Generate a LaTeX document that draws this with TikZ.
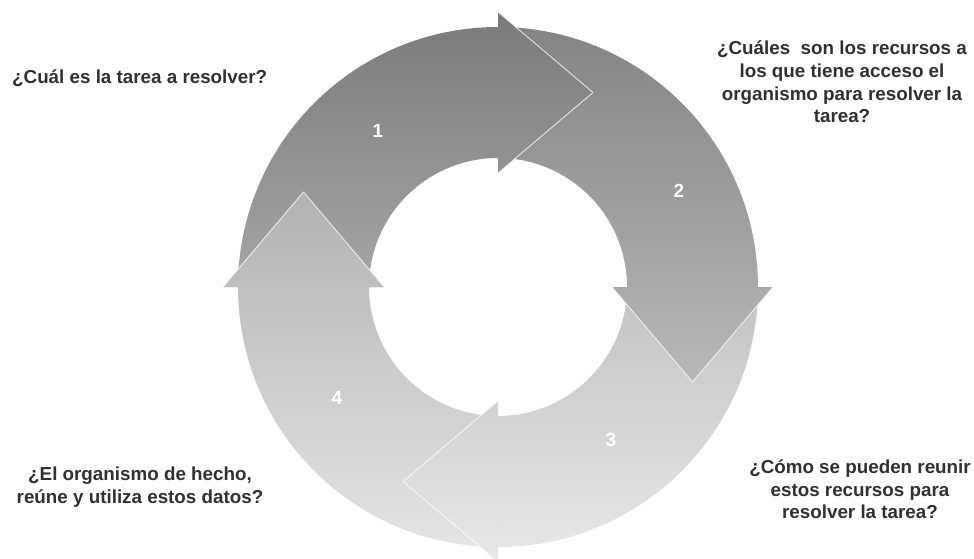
\documentclass[tikz,border=0pt]{standalone}
\usepackage{fontspec}
\setmainfont{Liberation Sans}
\definecolor{textgray}{HTML}{303030}
\definecolor{aOt}{HTML}{7A7A7A}\definecolor{aOb}{HTML}{A6A6A6}
\definecolor{aTt}{HTML}{848484}\definecolor{aTb}{HTML}{B8B8B8}
\definecolor{aHt}{HTML}{C2C2C2}\definecolor{aHb}{HTML}{E8E8E8}
\definecolor{aFt}{HTML}{B2B2B2}\definecolor{aFb}{HTML}{E4E4E4}
\newcommand\ringarrow[1]{({#1+90}:260) arc[start angle={#1+90}, end angle={#1}, radius=260] -- ({#1}:275) -- ({#1-26.03}:216.46) -- ({#1}:114) -- ({#1}:129) arc[start angle={#1}, end angle={#1+90}, radius=129] -- cycle}
\newcommand\ringhead[1]{({#1}:275) -- ({#1-26.03}:216.46) -- ({#1}:114) -- cycle}
\newcommand\ringedge[1]{({#1}:275) -- ({#1-26.03}:216.46) -- ({#1}:114)}
\tikzset{
  txt/.style={font=\bfseries\fontsize{18.8}{22.6}\selectfont, text=textgray, align=center, inner sep=0pt},
  num/.style={font=\bfseries\fontsize{19}{22}\selectfont, text=white, inner sep=0pt},
  edgeline/.style={draw=white, line width=0.9pt, opacity=0.75, line join=round},
  sh1/.style={top color=aOt, bottom color=aOb},
  sh2/.style={top color=aTt, bottom color=aTb},
  sh3/.style={top color=aHt, bottom color=aHb},
  sh4/.style={top color=aFt, bottom color=aFb}
}
\begin{document}
\begin{tikzpicture}[x=1pt,y=1pt]
\useasboundingbox (0,0) rectangle (974,558);
\begin{scope}[shift={(498,271)}]
  % bodies with heads
  \shade[sh1] \ringarrow{90};
  \shade[sh2] \ringarrow{0};
  \shade[sh3] \ringarrow{-90};
  \shade[sh4] \ringarrow{180};
  % heads on top
  \begin{scope}\clip \ringhead{90}; \shade[sh1] \ringarrow{90}; \end{scope}
  \begin{scope}\clip \ringhead{0}; \shade[sh2] \ringarrow{0}; \end{scope}
  \begin{scope}\clip \ringhead{-90}; \shade[sh3] \ringarrow{-90}; \end{scope}
  \begin{scope}\clip \ringhead{180}; \shade[sh4] \ringarrow{180}; \end{scope}
  \draw[edgeline] \ringedge{90};
  \draw[edgeline] \ringedge{0};
  \draw[edgeline] \ringedge{-90};
  \draw[edgeline] \ringedge{180};
\end{scope}
\node[num] (n1) at (378,427) {1};
\node[num] (n2) at (679,367) {2};
\node[num] (n3) at (611,118) {3};
\node[num] (n4) at (337,160) {4};
\node[txt, anchor=west] (t1) at (12,480) {¿Cuál es la tarea a resolver?};
\node[txt] (t2) at (842,476) {¿Cuáles\ \ son los recursos a\\los que tiene acceso el\\organismo para resolver la\\tarea?};
\node[txt] (t3) at (860,68.5) {¿Cómo se pueden reunir\\estos recursos para\\resolver la tarea?};
\node[txt] (t4) at (140,71) {¿El organismo de hecho,\\reúne y utiliza estos datos?};
\end{tikzpicture}
\end{document}
